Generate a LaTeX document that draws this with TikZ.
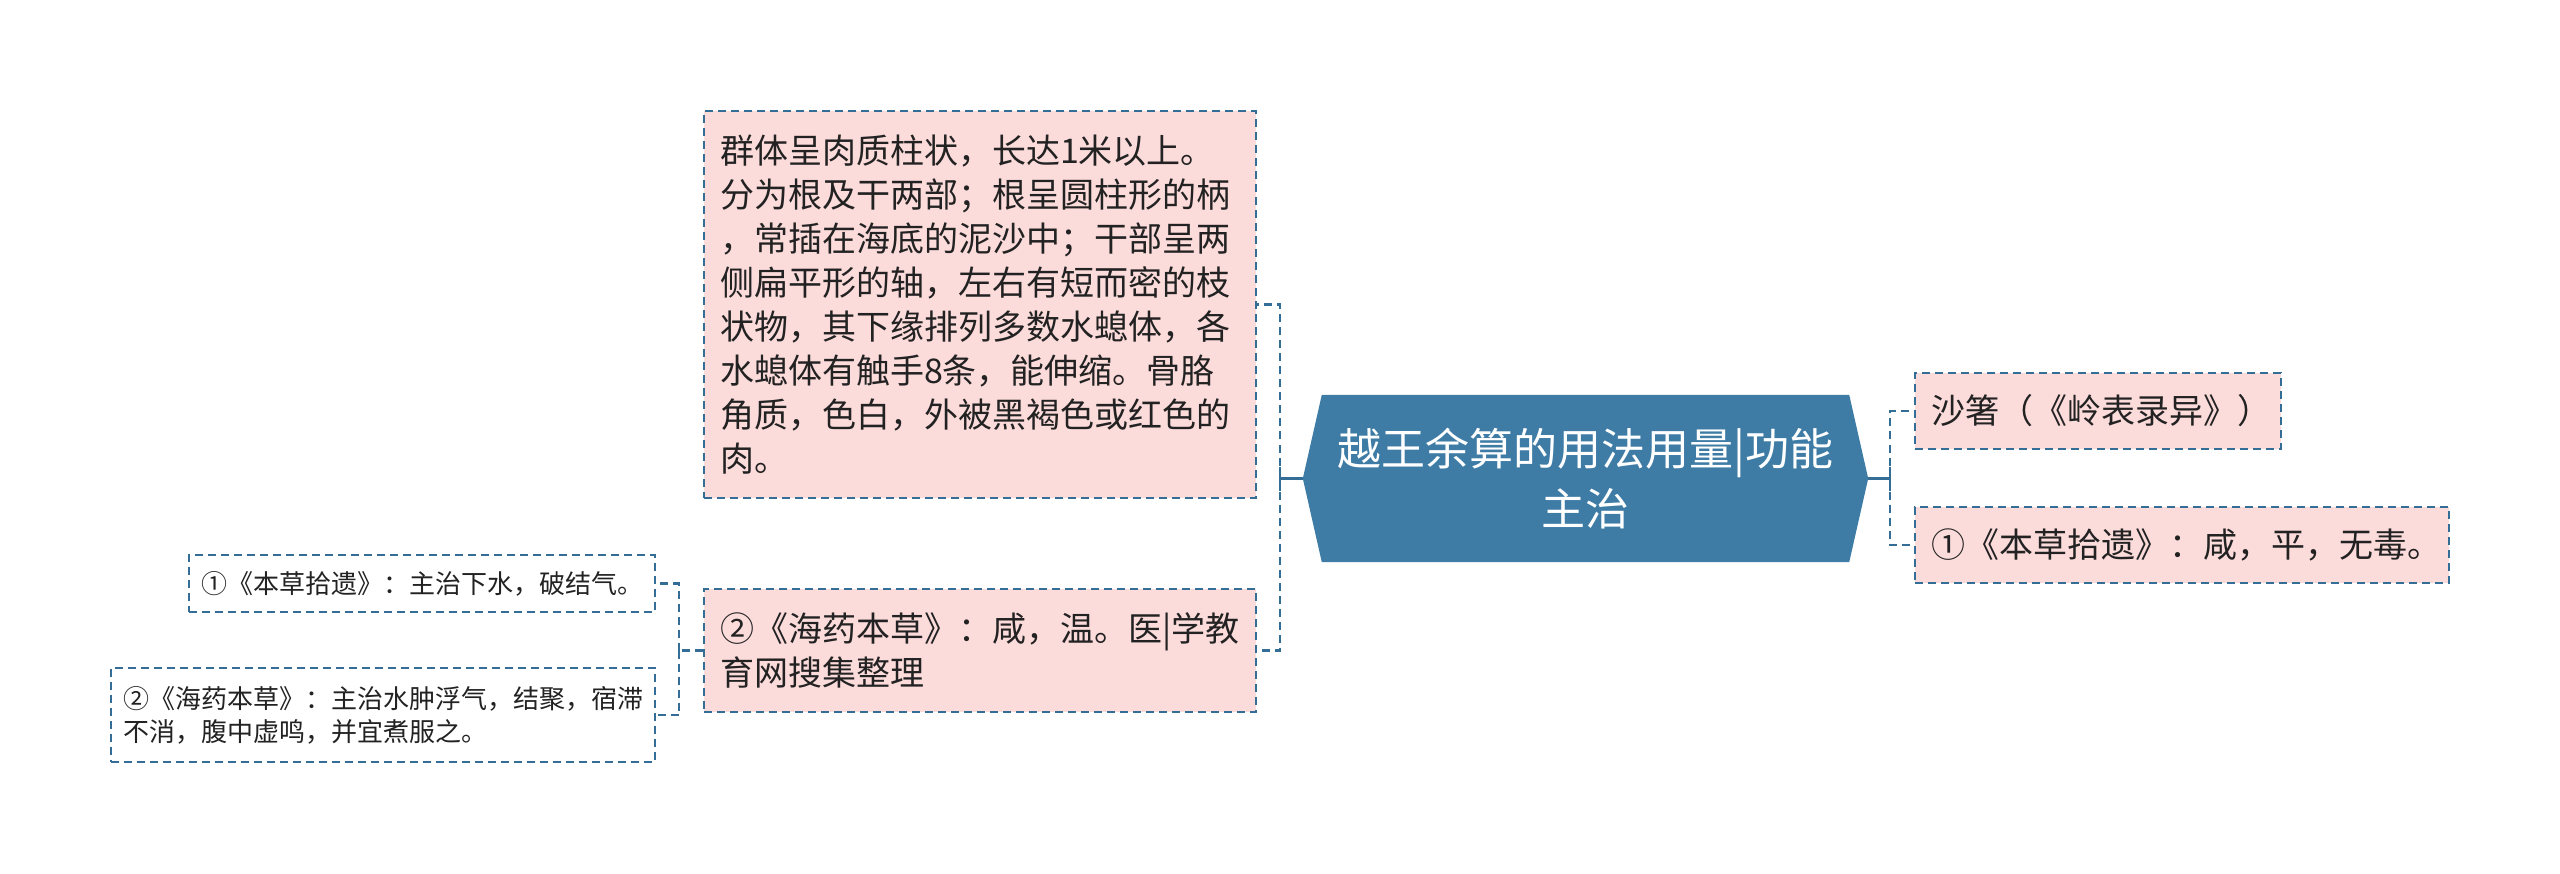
\documentclass[tikz,border=0pt]{standalone}
\usepackage{fontspec}
\setmainfont{Noto Sans CJK SC}
\usetikzlibrary{backgrounds}
\definecolor{cfill}{RGB}{62,124,166}
\definecolor{lcol}{RGB}{52,110,150}
\definecolor{pink}{RGB}{252,219,219}
\definecolor{tcol}{RGB}{34,34,34}
\tikzset{
  dline/.style={draw=lcol,line width=2.9pt,dash pattern=on 8pt off 5pt},
  sline/.style={draw=lcol,line width=2.9pt},
  pinkbox/.style={dline,fill=pink,rectangle,text=tcol,align=left,inner xsep=16pt,inner ysep=0pt,
     font=\fontsize{34}{44}\selectfont},
  whitebox/.style={dline,fill=white,rectangle,text=tcol,align=left,inner xsep=12pt,inner ysep=0pt,
     font=\fontsize{26}{33}\selectfont},
}
\begin{document}
\begin{tikzpicture}[x=1pt,y=-1pt]
\useasboundingbox (0,0) rectangle (2560,874);
% centre
\node[text=white,align=center,minimum width=565pt,minimum height=167pt,inner sep=0pt,
  font=\fontsize{44}{60}\selectfont] (c) at (1585.5,478.5) {越王余算的用法用量|功能\\主治};
\begin{pgfonlayer}{background}
\fill[cfill] ([xshift=19pt]c.north west) -- ([xshift=-19pt]c.north east) -- (c.east)
  -- ([xshift=-19pt]c.south east) -- ([xshift=19pt]c.south west) -- (c.west) -- cycle;
\end{pgfonlayer}
% left pink
\node[pinkbox,minimum width=552pt,minimum height=387pt,text width=520pt] (big) at (980,304.5)
 {群体呈肉质柱状，长达1米以上。\\分为根及干两部；根呈圆柱形的柄\\，常插在海底的泥沙中；干部呈两\\侧扁平形的轴，左右有短而密的枝\\状物，其下缘排列多数水螅体，各\\水螅体有触手8条，能伸缩。骨胳\\角质，色白，外被黑褐色或红色的\\肉。};
\node[pinkbox,minimum width=552pt,minimum height=123pt,text width=520pt] (pk) at (980,650.5)
 {②《海药本草》：咸，温。医|学教\\育网搜集整理};
% right pink
\node[pinkbox,minimum width=366pt,minimum height=76pt,text width=334pt] (r1) at (2098,411)
 {沙箸（《岭表录异》）};
\node[pinkbox,minimum width=534pt,minimum height=76pt,text width=502pt] (r2) at (2182,545)
 {①《本草拾遗》：咸，平，无毒。};
% left white
\node[whitebox,minimum width=466pt,minimum height=57pt,text width=442pt] (w1) at (422,583.5)
 {①《本草拾遗》：主治下水，破结气。};
\node[whitebox,minimum width=544pt,minimum height=94pt,text width=520pt] (w2) at (383,715)
 {②《海药本草》：主治水肿浮气，结聚，宿滞\\不消，腹中虚鸣，并宜煮服之。};
% connectors
\coordinate (lj) at (1280,478.5);
\coordinate (rj) at (1890,478.5);
\coordinate (sj) at (679,650.5);
\draw[sline] (c.west) -- (lj);
\draw[sline] (lj) ++(0,-12) -- ++(0,24);
\draw[dline] (lj) |- (big.east);
\draw[dline] (lj) |- (pk.east);
\draw[sline] (c.east) -- (rj);
\draw[sline] (rj) ++(0,-12) -- ++(0,24);
\draw[dline] (rj) |- (r1.west);
\draw[dline] (rj) |- (r2.west);
\draw[dline] (pk.west) -- (sj);
\draw[dline] (sj) |- (w1.east);
\draw[dline] (sj) |- (w2.east);
\end{tikzpicture}
\end{document}
